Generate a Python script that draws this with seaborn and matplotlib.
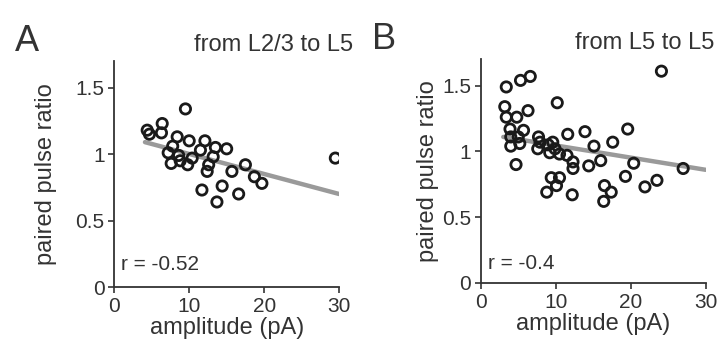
import numpy as np
import pandas as pd
import matplotlib.pyplot as plt
import seaborn as sns

# panel A: from L2/3 to L5
amp_a = [4.4, 4.7, 6.4, 6.3, 9.5, 8.4, 7.8, 10.0, 12.1, 11.5, 13.5, 15.0, 7.2, 8.6,
         7.6, 8.8, 9.8, 10.4, 13.2, 12.6, 12.4, 15.7, 17.5, 18.7, 19.7, 11.7, 14.4,
         13.7, 16.6, 29.5]
ppr_a = [1.18, 1.15, 1.23, 1.16, 1.34, 1.13, 1.06, 1.10, 1.10, 1.03, 1.05, 1.04, 1.01, 0.99,
         0.93, 0.95, 0.92, 0.97, 0.98, 0.92, 0.87, 0.87, 0.92, 0.83, 0.78, 0.73, 0.76,
         0.64, 0.70, 0.97]
fit_x_a = [4.1, 30]
fit_y_a = [1.09, 0.70]

# panel B: from L5 to L5
amp_b = [3.4, 5.3, 6.6, 24.1, 3.2, 3.4, 4.8, 6.3, 10.2, 3.9, 5.7, 4.0, 5.0, 5.2, 4.0,
         4.7, 7.7, 7.9, 7.6, 9.0, 9.6, 9.9, 9.2, 10.5, 11.6, 13.9, 15.1, 17.6, 19.6,
         11.5, 12.3, 12.3, 14.4, 16.0, 20.4, 27.0, 9.4, 10.5, 10.1, 8.8, 12.2, 16.5,
         17.4, 16.4, 19.3, 21.9, 23.5]
ppr_b = [1.49, 1.54, 1.57, 1.61, 1.34, 1.26, 1.26, 1.31, 1.37, 1.17, 1.16, 1.11, 1.11,
         1.06, 1.04, 0.90, 1.11, 1.07, 1.02, 1.05, 1.07, 1.02, 0.99, 0.98, 1.13, 1.15,
         1.04, 1.07, 1.17, 0.97, 0.92, 0.87, 0.89, 0.93, 0.91, 0.87, 0.80, 0.80, 0.74,
         0.69, 0.67, 0.74, 0.69, 0.62, 0.81, 0.73, 0.78]
fit_x_b = [3.0, 30]
fit_y_b = [1.11, 0.86]

xticks = [0, 10, 20, 30]
yticks = [0, 0.5, 1, 1.5]
ytick_labels = ["0", "0.5", "1", "1.5"]

# letter, title, x, y, fit x, fit y, r text, r y-pos, axes rect, letter x, ylabel pad, title x
panels = [
    ("A", "from L2/3 to L5", amp_a, ppr_a, fit_x_a, fit_y_a, "r = -0.52", 0.075,
     [0.158, 0.168, 0.311, 0.655], -0.44, 13, 1.062),
    ("B", "from L5 to L5", amp_b, ppr_b, fit_x_b, fit_y_b, "r = -0.4", 0.06,
     [0.665, 0.180, 0.311, 0.648], -0.485, 2, 1.04),
]

sns.set_style("ticks")
plt.rcParams['font.family'] = ['Liberation Sans', 'DejaVu Sans']
ink = "#333333"

fig = plt.figure(figsize=(7.23, 3.45), dpi=100)

for letter, title, xs, ys, fx, fy, rtxt, ry, rect, lx, ypad, tx in panels:
    ax = fig.add_axes(rect)
    df = pd.DataFrame({"amp": xs, "ppr": ys})
    fit = pd.DataFrame({"amp": fx, "ppr": fy})
    sns.lineplot(data=fit, x="amp", y="ppr", ax=ax, color="#9a9a9a", lw=3.2, zorder=2)
    sns.scatterplot(data=df, x="amp", y="ppr", ax=ax, marker="o", s=55,
                    facecolor="none", edgecolor="#1a1a1a", linewidth=2, zorder=3)
    ax.set_xlim(0, 30)
    ax.set_ylim(0, 1.7)
    ax.set_xticks(xticks)
    ax.set_xticklabels([str(t) for t in xticks])
    ax.set_yticks(yticks)
    ax.set_yticklabels(ytick_labels)
    ax.tick_params(labelsize=15, length=4, width=1.2, colors=ink, pad=3)
    sns.despine(ax=ax)
    ax.spines["bottom"].set_bounds(0, 30)
    for s in ("left", "bottom"):
        ax.spines[s].set_linewidth(1.3)
        ax.spines[s].set_color(ink)
    ax.set_xlabel("amplitude (pA)", fontsize=17, color=ink, labelpad=1)
    ax.set_ylabel("paired pulse ratio", fontsize=17, color=ink, labelpad=ypad)
    ax.text(0.03, ry, rtxt, transform=ax.transAxes, fontsize=15, color=ink,
            va="baseline")
    ax.text(tx, 1.045, title, transform=ax.transAxes, ha="right", va="baseline",
            fontsize=17, color=ink)
    ax.text(lx, 1.045, letter, transform=ax.transAxes, ha="left", va="baseline",
            fontsize=26, color=ink)

fig.savefig("out.png", dpi=100, facecolor="white")
